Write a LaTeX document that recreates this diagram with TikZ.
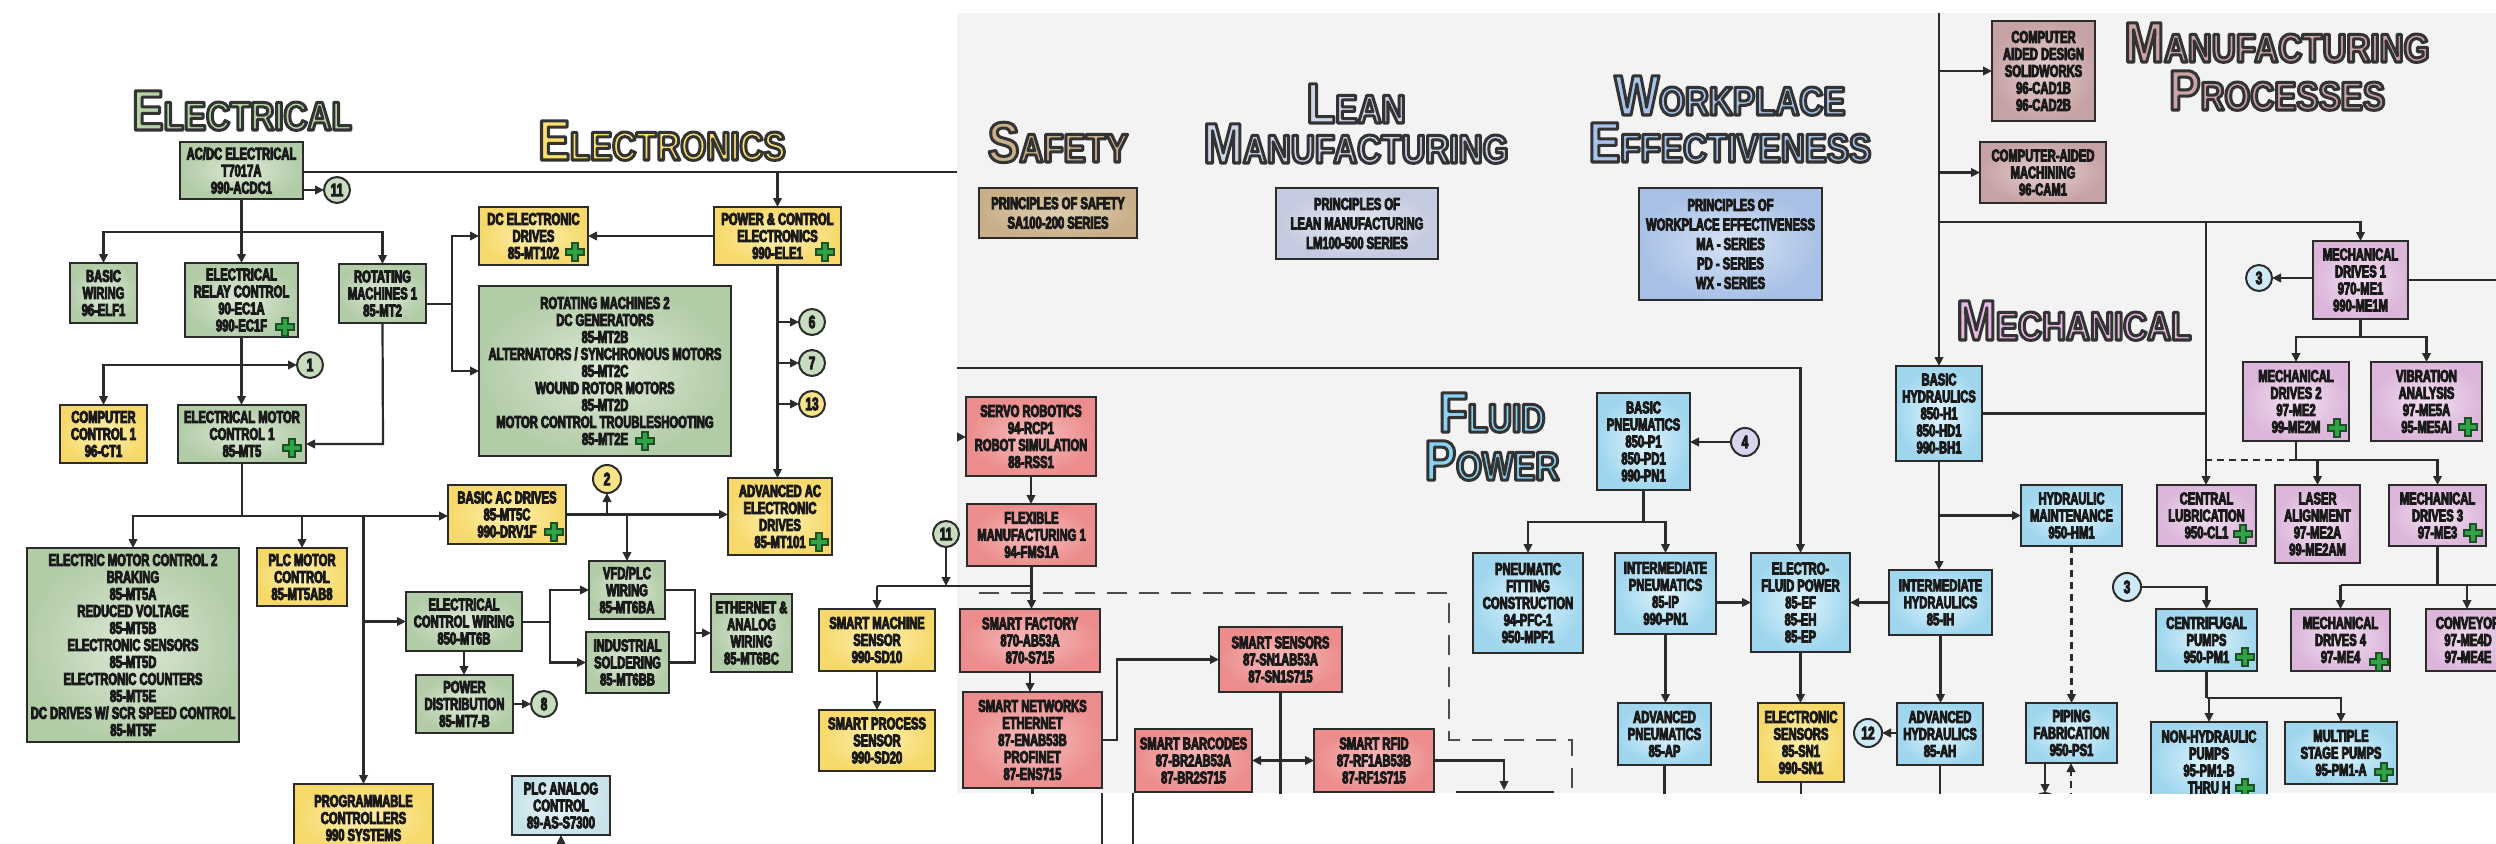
\documentclass[tikz,border=0pt]{standalone}
\usepackage{fontspec}
\usetikzlibrary{arrows.meta,calc}
\newfontfamily\boxfont{Liberation Sans}[FakeStretch=0.66, BoldFeatures={FakeBold=5}]
\newfontfamily\ttlfont{Liberation Sans}[FakeStretch=0.83]
\definecolor{bdr}{HTML}{2B2B2B}
\definecolor{lnc}{HTML}{2B2B2B}
\definecolor{txt}{HTML}{1A1A1A}
\definecolor{panel}{HTML}{F3F3F3}
\definecolor{gIn}{HTML}{DDE9D6}\definecolor{gOut}{HTML}{B2CCA8}
\definecolor{yIn}{HTML}{FDF0B0}\definecolor{yOut}{HTML}{F6D96A}
\definecolor{rIn}{HTML}{F7BDBD}\definecolor{rOut}{HTML}{EC8C8C}
\definecolor{bIn}{HTML}{E0F4FC}\definecolor{bOut}{HTML}{9FD6EE}
\definecolor{pIn}{HTML}{F1DFF0}\definecolor{pOut}{HTML}{DCB6DA}
\definecolor{mIn}{HTML}{E4CFCF}\definecolor{mOut}{HTML}{C7A2A4}
\definecolor{tIn}{HTML}{DDCCB0}\definecolor{tOut}{HTML}{C8AF88}
\definecolor{lIn}{HTML}{E3E7F1}\definecolor{lOut}{HTML}{C4CADF}
\definecolor{wIn}{HTML}{D6E3F4}\definecolor{wOut}{HTML}{A8C0E6}
\definecolor{aIn}{HTML}{E6F3F6}\definecolor{aOut}{HTML}{C8E2EA}
\definecolor{cG}{HTML}{C8DDBF}\definecolor{cY}{HTML}{F8E38A}
\definecolor{cL}{HTML}{DAD3EE}\definecolor{cB}{HTML}{CFEAF6}
\definecolor{ElecT}{HTML}{B5D5A6}\definecolor{ElxT}{HTML}{F9E06F}
\definecolor{SafT}{HTML}{C8B28A}\definecolor{LeanT}{HTML}{CDD4E8}
\definecolor{WpT}{HTML}{A7C3EA}\definecolor{MfgT}{HTML}{C9A5A8}
\definecolor{MechT}{HTML}{E6B9E2}\definecolor{FluidT}{HTML}{8AD3F2}
\definecolor{plusg}{HTML}{2EA444}\definecolor{plusd}{HTML}{1E4F26}
\newcommand\ttB[1]{{\fontsize{57}{57}\selectfont #1}}
\newcommand\ttS[1]{{\fontsize{40}{40}\selectfont #1}}
\newcommand\bxn[7]{\node[#1, minimum width={(#5-#3)*1pt}, minimum height={(#6-#4)*1pt}] (#2) at ({(#3+#5)/2},{(#4+#6)/2}) {#7};}
\newcommand\ttlx[4]{%
  \node[ttlst, text=#3] (#1) at (#2) {\special{pdf:literal direct 1 j 3 w 0.2 0.2 0.2 RG 2 Tr}#4\special{pdf:literal direct 0 Tr}};}
\newcommand\gplus[1]{\filldraw[fill=plusg, draw=plusd, line width=1.1pt, shift={(#1)}] (-3,-9) -- (3,-9) -- (3,-3) -- (9,-3) -- (9,3) -- (3,3) -- (3,9) -- (-3,9) -- (-3,3) -- (-9,3) -- (-9,-3) -- (-3,-3) -- cycle;}
\begin{document}
\begin{tikzpicture}[x=1pt,y=-1pt,
  box/.style={draw=bdr, line width=2.2pt, inner sep=0pt, outer sep=0pt, align=center, text=txt, font={\boxfont\bfseries\fontsize{17}{17}\selectfont}},
  gbox/.style={box, inner color=gIn, outer color=gOut},
  ybox/.style={box, inner color=yIn, outer color=yOut},
  rbox/.style={box, inner color=rIn, outer color=rOut},
  bbox/.style={box, inner color=bIn, outer color=bOut},
  pbox/.style={box, inner color=pIn, outer color=pOut},
  mbox/.style={box, inner color=mIn, outer color=mOut},
  tbox/.style={box, inner color=tIn, outer color=tOut, font={\boxfont\bfseries\fontsize{17}{19.5}\selectfont}},
  lnbox/.style={box, inner color=lIn, outer color=lOut, font={\boxfont\bfseries\fontsize{17}{19.5}\selectfont}},
  wpbox/.style={box, inner color=wIn, outer color=wOut, font={\boxfont\bfseries\fontsize{17}{19.5}\selectfont}},
  abox/.style={box, inner color=aIn, outer color=aOut},
  circ/.style={circle, draw=bdr, line width=2pt, minimum size=26pt, inner sep=0pt, outer sep=0pt, text=txt, font={\boxfont\bfseries\fontsize{18}{18}\selectfont}},
  ttlst/.style={anchor=base, inner sep=0pt, outer sep=0pt, font={\ttlfont\bfseries}},
  cn/.style={draw=lnc, line width=2.2pt},
  arr/.style={cn, -{Triangle[length=9pt,width=8.5pt]}},
  darr/.style={cn, {Triangle[length=9pt,width=8.5pt]}-{Triangle[length=9pt,width=8.5pt]}},
  dsh/.style={draw=lnc!85, line width=2.2pt, dash pattern=on 20pt off 12pt},
  dsharr/.style={arr, dash pattern=on 7pt off 5pt}]
\clip (0,0) rectangle (2496,843);
\fill[white] (0,0) rectangle (2496,843);
\fill[panel] (957,13) rectangle (2496,793);
% lines of the left picture seen below the panel
\coordinate (lb1) at (1102,793); \coordinate (lb2) at (1133,793);
\draw[cn] (lb1) -- ++(0,60); \draw[cn] (lb2) -- ++(0,60);

%================ RIGHT PANEL =================
\begin{scope}
\clip (957,13) rectangle (2496,793);
\ttlx{tSaf}{1058,162}{SafT}{\ttB{S}\ttS{AFETY}}
\ttlx{tLeanA}{1356,123}{LeanT}{\ttB{L}\ttS{EAN}}
\ttlx{tLeanB}{1356,163}{LeanT}{\ttB{M}\ttS{ANUFACTURING}}
\ttlx{tWpA}{1730,115}{WpT}{\ttB{W}\ttS{ORKPLACE}}
\ttlx{tWpB}{1730,162}{WpT}{\ttB{E}\ttS{FFECTIVENESS}}
\ttlx{tMfgA}{2277,62}{MfgT}{\ttB{M}\ttS{ANUFACTURING}}
\ttlx{tMfgB}{2277,110}{MfgT}{\ttB{P}\ttS{ROCESSES}}
\ttlx{tMech}{2074,340}{MechT}{\ttB{M}\ttS{ECHANICAL}}
\ttlx{tFlA}{1492,432}{FluidT}{\ttB{F}\ttS{LUID}}
\ttlx{tFlB}{1492,480}{FluidT}{\ttB{P}\ttS{OWER}}

\bxn{tbox}{saf}{979}{188}{1137}{238}{PRINCIPLES OF SAFETY\\SA100-200 SERIES}
\bxn{lnbox}{lean}{1276}{188}{1438}{259}{PRINCIPLES OF\\LEAN MANUFACTURING\\LM100-500 SERIES}
\bxn{wpbox}{wp}{1639}{188}{1822}{300}{PRINCIPLES OF\\WORKPLACE EFFECTIVENESS\\MA - SERIES\\PD - SERIES\\WX - SERIES}

% manufacturing processes / mechanical
\coordinate (vt) at (1939,13);
\bxn{bbox}{bh}{1896}{366}{1982}{461}{BASIC\\HYDRAULICS\\850-H1\\850-HD1\\990-BH1}
\bxn{mbox}{cad}{1992}{21}{2095}{121}{COMPUTER\\AIDED DESIGN\\SOLIDWORKS\\96-CAD1B\\96-CAD2B}
\bxn{mbox}{cam}{1980}{142}{2106}{203}{COMPUTER-AIDED\\MACHINING\\96-CAM1}
\draw[arr] (vt) -- (bh.north);
\draw[arr] (bh.north |- cad.west) -- (cad.west);
\draw[arr] (bh.north |- cam.west) -- (cam.west);
\bxn{pbox}{md1}{2313}{241}{2408}{319}{MECHANICAL\\DRIVES 1\\970-ME1\\990-ME1M}
\coordinate (j7) at (1939,222);
\draw[arr] (j7) -| (md1.north);
\coordinate (j8) at (2206,222);
\bxn{pbox}{cl}{2157}{485}{2256}{546}{CENTRAL\\LUBRICATION\\950-CL1}
\draw[arr] (j8) -- (j8 |- cl.north);
\draw[cn] (bh.east) -- (bh.east -| j8);
\node[circ, fill=cB] (c3a) at (2259,278) {3};
\draw[arr] (md1.west |- c3a) -- (c3a.east);
\coordinate (rE) at (2496,280);
\draw[cn] (md1.east |- rE) -- (rE);
\bxn{pbox}{md2}{2243}{362}{2349}{441}{MECHANICAL\\DRIVES 2\\97-ME2\\99-ME2M}
\bxn{pbox}{vib}{2371}{362}{2482}{441}{VIBRATION\\ANALYSIS\\97-ME5A\\95-ME5AI}
\coordinate (j9) at (2360,337);
\draw[cn] (md1.south) -- (md1.south |- j9);
\draw[arr] (md1.south |- j9) -| (md2.north);
\draw[arr] (md1.south |- j9) -| (vib.north);
\bxn{pbox}{la}{2275}{485}{2360}{563}{LASER\\ALIGNMENT\\97-ME2A\\99-ME2AM}
\bxn{pbox}{md3}{2389}{485}{2486}{546}{MECHANICAL\\DRIVES 3\\97-ME3}
\coordinate (j10) at (2296,460);
\draw[cn] (md2.south) -- (md2.south |- j10);
\draw[arr] (md2.south |- j10) -| (la.north);
\draw[arr] (md2.south |- j10) -| (md3.north);
\draw[cn, dash pattern=on 7pt off 5pt] (md2.south |- j10) -- (j8 |- j10);
\bxn{bbox}{hm}{2021}{485}{2122}{546}{HYDRAULIC\\MAINTENANCE\\950-HM1}
\bxn{bbox}{ih}{1889}{570}{1992}{635}{INTERMEDIATE\\HYDRAULICS\\85-IH}
\draw[arr] (bh.south) -- (bh.south |- ih.north);
\draw[arr] (bh.south |- hm.west) -- (hm.west);
\bxn{bbox}{pf}{2026}{703}{2117}{763}{PIPING\\FABRICATION\\950-PS1}
\draw[dsharr] (hm.south) -- (hm.south |- pf.north);
\node[circ, fill=cB, minimum size=28pt] (c3b) at (2127,587) {3};
\bxn{bbox}{cp}{2156}{609}{2257}{671}{CENTRIFUGAL\\PUMPS\\950-PM1}
\draw[arr] (c3b.east) -| (cp.north);
\bxn{pbox}{md4}{2291}{609}{2390}{671}{MECHANICAL\\DRIVES 4\\97-ME4}
\bxn{pbox}{conv}{2426}{609}{2510}{671}{CONVEYOR\\97-ME4D\\97-ME4E}
\coordinate (j11) at (2437,585);
\coordinate (rE2) at (2496,585);
\coordinate (convin) at (2467,609);
\draw[cn] (md3.south) -- (md3.south |- j11);
\draw[cn] (md4.north |- j11) -- (rE2);
\draw[arr] (md4.north |- j11) -- (md4.north);
\draw[arr] (convin |- j11) -- (convin);
\bxn{bbox}{nh}{2151}{722}{2267}{802}{NON-HYDRAULIC\\PUMPS\\95-PM1-B\\THRU H}
\bxn{bbox}{ms}{2285}{722}{2397}{784}{MULTIPLE\\STAGE PUMPS\\95-PM1-A}
\coordinate (j12) at (2206,698);
\draw[cn] (cp.south) -- (cp.south |- j12);
\draw[arr] (cp.south |- j12) -| (nh.north);
\draw[arr] (cp.south |- j12) -| (ms.north);
\node[circ, fill=cB] (c14) at (2045,806) {};
\draw[arr] (pf.south -| c14) -- (c14.north);
\coordinate (pfin) at (2071,800);
\draw[dsharr] (pfin) -- (pfin |- pf.south);

% fluid power
\bxn{bbox}{bp}{1597}{393}{1690}{490}{BASIC\\PNEUMATICS\\850-P1\\850-PD1\\990-PN1}
\node[circ, fill=cL, minimum size=28pt] (c4) at (1745,442) {4};
\draw[arr] (c4.west) -- (bp.east |- c4);
\bxn{bbox}{pfc}{1473}{553}{1583}{653}{PNEUMATIC\\FITTING\\CONSTRUCTION\\94-PFC-1\\950-MPF1}
\bxn{bbox}{ip}{1615}{553}{1716}{634}{INTERMEDIATE\\PNEUMATICS\\85-IP\\990-PN1}
\bxn{bbox}{efp}{1751}{553}{1850}{652}{ELECTRO-\\FLUID POWER\\85-EF\\85-EH\\85-EP}
\coordinate (j13) at (957,368);
\draw[arr] (j13) -| (efp.north);
\coordinate (j14) at (1643,522);
\draw[cn] (bp.south) -- (bp.south |- j14);
\draw[arr] (bp.south |- j14) -| (pfc.north);
\draw[arr] (bp.south |- j14) -| (ip.north);
\draw[arr] (ip.east |- efp.west) -- (efp.west);
\draw[arr] (ih.west) -- (efp.east |- ih.west);
\bxn{bbox}{ap}{1618}{703}{1711}{765}{ADVANCED\\PNEUMATICS\\85-AP}
\bxn{ybox}{es}{1758}{703}{1844}{782}{ELECTRONIC\\SENSORS\\85-SN1\\990-SN1}
\bxn{bbox}{ah}{1897}{703}{1983}{765}{ADVANCED\\HYDRAULICS\\85-AH}
\draw[arr] (ip.south) -- (ip.south |- ap.north);
\draw[arr] (efp.south) -- (efp.south |- es.north);
\draw[arr] (ih.south) -- (ih.south |- ah.north);
\node[circ, fill=cB, minimum size=28pt] (c12) at (1868,733) {12};
\draw[arr] (ah.west |- c12) -- (c12.east);
\coordinate (bot) at (0,800);
\draw[cn] (ap.south) -- (ap.south |- bot);
\draw[cn] (es.south) -- (es.south |- bot);
\draw[cn] (ah.south) -- (ah.south |- bot);

% smart / robotics
\bxn{rbox}{servo}{966}{397}{1096}{476}{SERVO ROBOTICS\\94-RCP1\\ROBOT SIMULATION\\88-RSS1}
\bxn{rbox}{flex}{967}{504}{1096}{566}{FLEXIBLE\\MANUFACTURING 1\\94-FMS1A}
\bxn{rbox}{sf}{960}{609}{1100}{672}{SMART FACTORY\\870-AB53A\\870-S715}
\bxn{rbox}{sn}{963}{692}{1102}{788}{SMART NETWORKS\\ETHERNET\\87-ENAB53B\\PROFINET\\87-ENS715}
\bxn{rbox}{ss}{1219}{627}{1342}{692}{SMART SENSORS\\87-SN1AB53A\\87-SN1S715}
\bxn{rbox}{sb}{1135}{729}{1252}{792}{SMART BARCODES\\87-BR2AB53A\\87-BR2S715}
\bxn{rbox}{srf}{1314}{729}{1434}{792}{SMART RFID\\87-RF1AB53B\\87-RF1S715}
\coordinate (sv0) at (952,437);
\draw[arr] (sv0) -- (servo.west |- sv0);
\draw[arr] (servo.south) -- (servo.south |- flex.north);
\draw[arr] (flex.south) -- (flex.south |- sf.north);
\draw[arr] (sf.south) -- (sf.south |- sn.north);
\draw[cn] (sn.south) -- (sn.south |- bot);
\draw[arr] (sn.east) -- ++(15,0) |- (ss.west);
\draw[cn] (ss.south) -- (ss.south |- bot);
\draw[darr] (sb.east) -- (srf.west);
\coordinate (j15) at (1504,790);
\draw[arr] (srf.east) -| (j15);
\coordinate (bl1) at (1456,792); \coordinate (bl2) at (1554,792);
\draw[cn, line width=2.6pt] (bl1) -- (bl2);
\coordinate (d1) at (979,593); \coordinate (d2) at (1449,593);
\coordinate (d3) at (1449,740); \coordinate (d4) at (1572,740);
\coordinate (d5) at (1572,800);
\draw[dsh] (d1) -- (d2) -- (d3) -- (d4) -- (d5);
\coordinate (j16) at (1031,586);
\draw[cn] (j16) -- (950,586);

\gplus{2337,428}\gplus{2468,427}\gplus{2243,534}\gplus{2473,533}
\gplus{2245,657}\gplus{2379,662}\gplus{2384,772}\gplus{2245,788}
\end{scope}

%================ LEFT PART =================
\ttlx{tEl}{242,130}{ElecT}{\ttB{E}\ttS{LECTRICAL}}
\ttlx{tEx}{662,160}{ElxT}{\ttB{E}\ttS{LECTRONICS}}

\bxn{gbox}{acdc}{180}{142}{303}{199}{AC/DC ELECTRICAL\\T7017A\\990-ACDC1}
\node[circ, fill=cG] (c11a) at (337,190) {11};
\draw[arr] (acdc.east |- c11a) -- (c11a.west);
\coordinate (topL) at (957,172);
\draw[cn] (acdc.east |- topL) -- (topL);
\bxn{ybox}{pce}{714}{207}{841}{265}{POWER \& CONTROL\\ELECTRONICS\\990-ELE1}
\draw[arr] (pce.north |- topL) -- (pce.north);

\bxn{gbox}{wiring}{70}{263}{137}{323}{BASIC\\WIRING\\96-ELF1}
\bxn{gbox}{relay}{185}{263}{298}{337}{ELECTRICAL\\RELAY CONTROL\\90-EC1A\\990-EC1F}
\bxn{gbox}{rot1}{339}{264}{426}{323}{ROTATING\\MACHINES 1\\85-MT2}
\coordinate (j1) at (242,232);
\draw[arr] (acdc.south) -- (acdc.south |- relay.north);
\draw[arr] (acdc.south |- j1) -| (wiring.north);
\draw[arr] (acdc.south |- j1) -| (rot1.north);

\bxn{ybox}{cc1}{60}{405}{147}{463}{COMPUTER\\CONTROL 1\\96-CT1}
\bxn{gbox}{emc1}{178}{405}{306}{463}{ELECTRICAL MOTOR\\CONTROL 1\\85-MT5}
\draw[arr] (relay.south) -- (relay.south |- emc1.north);
\node[circ, fill=cG] (c1) at (310,365) {1};
\draw[arr] (relay.south |- c1) -- (c1.west);
\draw[arr] (relay.south |- c1) -| (cc1.north);
\coordinate (j2) at (383,444);
\draw[arr] (rot1.south) -- (j2) -- (emc1.east |- j2);

\bxn{ybox}{dcdrv}{479}{207}{588}{265}{DC ELECTRONIC\\DRIVES\\85-MT102}
\bxn{gbox}{rot2}{479}{286}{731}{456}{ROTATING MACHINES 2\\DC GENERATORS\\85-MT2B\\ALTERNATORS / SYNCHRONOUS MOTORS\\85-MT2C\\WOUND ROTOR MOTORS\\85-MT2D\\MOTOR CONTROL TROUBLESHOOTING\\85-MT2E}
\coordinate (j3) at (452,304);
\draw[cn] (rot1.east |- j3) -- (j3);
\draw[arr] (j3) |- (dcdrv.west);
\draw[arr] (j3) |- (rot2.west);
\draw[arr] (pce.west) -- (dcdrv.east);

\node[circ, fill=cG] (c6) at (812,322) {6};
\node[circ, fill=cG] (c7) at (812,363) {7};
\node[circ, fill=cY] (c13) at (812,404) {13};
\bxn{ybox}{advac}{728}{478}{832}{555}{ADVANCED AC\\ELECTRONIC\\DRIVES\\85-MT101}
\draw[arr] (pce.south) -- (pce.south |- advac.north);
\draw[arr] (pce.south |- c6) -- (c6.west);
\draw[arr] (pce.south |- c7) -- (c7.west);
\draw[arr] (pce.south |- c13) -- (c13.west);

\coordinate (j4) at (242,516);
\bxn{gbox}{emc2}{27}{548}{239}{742}{ELECTRIC MOTOR CONTROL 2\\BRAKING\\85-MT5A\\REDUCED VOLTAGE\\85-MT5B\\ELECTRONIC SENSORS\\85-MT5D\\ELECTRONIC COUNTERS\\85-MT5E\\DC DRIVES W/ SCR SPEED CONTROL\\85-MT5F}
\bxn{ybox}{plcm}{257}{548}{347}{606}{PLC MOTOR\\CONTROL\\85-MT5AB8}
\bxn{ybox}{progc}{294}{784}{433}{852}{PROGRAMMABLE\\CONTROLLERS\\990 SYSTEMS}
\bxn{ybox}{bacd}{448}{485}{566}{544}{BASIC AC DRIVES\\85-MT5C\\990-DRV1F}
\draw[cn] (emc1.south) -- (j4);
\draw[arr] (j4) -| (emc2.north);
\draw[arr] (j4) -- (bacd.west |- j4);
\draw[arr] (plcm.north |- j4) -- (plcm.north);
\draw[arr] (progc.north |- j4) -- (progc.north);
\bxn{gbox}{ecw}{406}{592}{522}{651}{ELECTRICAL\\CONTROL WIRING\\850-MT6B}
\draw[arr] (progc.north |- ecw.west) -- (ecw.west);

\node[circ, fill=cY, minimum size=28pt] (c2) at (607,479) {2};
\bxn{gbox}{vfd}{589}{561}{665}{619}{VFD/PLC\\WIRING\\85-MT6BA}
\bxn{gbox}{isold}{586}{632}{669}{693}{INDUSTRIAL\\SOLDERING\\85-MT6BB}
\bxn{gbox}{eth}{711}{594}{792}{672}{ETHERNET \&\\ANALOG\\WIRING\\85-MT6BC}
\draw[arr] (bacd.east) -- (bacd.east -| advac.west);
\draw[arr] (c2.south |- bacd.east) -- (c2.south);
\draw[arr] (vfd.north |- bacd.east) -- (vfd.north);
\coordinate (j5) at (550,622);
\draw[cn] (ecw.east |- j5) -- (j5);
\draw[arr] (j5) |- (vfd.west);
\draw[arr] (j5) |- (isold.west);
\coordinate (j6) at (695,633);
\draw[cn] (vfd.east) -| (j6);
\draw[cn] (isold.east) -| (j6);
\draw[arr] (j6) -- (eth.west);

\bxn{gbox}{pdist}{416}{675}{513}{733}{POWER\\DISTRIBUTION\\85-MT7-B}
\draw[arr] (ecw.south) -- (ecw.south |- pdist.north);
\node[circ, fill=cG] (c8) at (544,704) {8};
\draw[arr] (pdist.east) -- (c8.west);

\bxn{abox}{plca}{512}{776}{610}{835}{PLC ANALOG\\CONTROL\\89-AS-S7300}
\coordinate (plcin) at (561,850);
\draw[arr] (plcin) -- (plca.south);

\bxn{ybox}{sms}{819}{609}{935}{671}{SMART MACHINE\\SENSOR\\990-SD10}
\bxn{ybox}{sps}{819}{710}{935}{771}{SMART PROCESS\\SENSOR\\990-SD20}
\draw[arr] (sms.south) -- (sps.north);
\node[circ, fill=cG] (c11b) at (946,534) {11};
\coordinate (j17) at (946,586);
\draw[arr] (c11b.south) -- (j17);
\draw[cn] (j16) -- (sms.north |- j17);
\draw[arr] (sms.north |- j17) -- (sms.north);

\gplus{285,327}\gplus{292,448}\gplus{575,252}\gplus{825,252}
\gplus{645,441}\gplus{554,532}\gplus{819,542}
\end{tikzpicture}
\end{document}
